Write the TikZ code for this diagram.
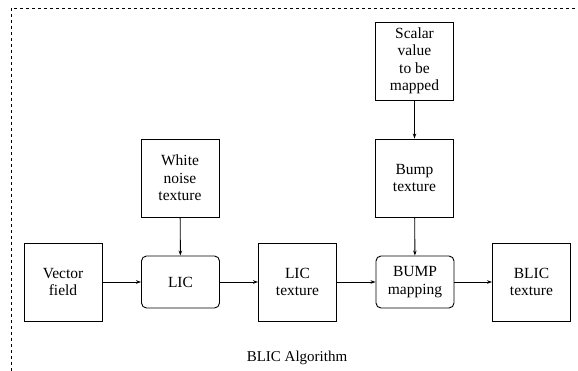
\documentclass[tikz,border=0pt]{standalone}
\usepackage{fontspec}
\setmainfont{Liberation Serif}
\usetikzlibrary{arrows.meta, positioning}

\begin{document}
\begin{tikzpicture}[
    x=1pt, y=-1pt,
    >={Stealth[length=5pt, width=3.5pt]},
    every node/.style={font=\fontsize{15.5}{17.5}\selectfont},
    block/.style={draw, line width=0.9pt, minimum width=78pt, minimum height=78pt, align=center, inner sep=2pt},
    proc/.style={draw, line width=0.9pt, rounded corners=5pt, minimum width=78pt, minimum height=52pt, align=center, inner sep=2pt},
    link/.style={->, line width=0.9pt},
]
\useasboundingbox (0,0) rectangle (578,371);

% --- frame (dashed, only top and left edges are in view) ---
\draw[line width=0.7pt, dash pattern=on 3pt off 3pt] (11,371) -- (11,8) -- (578,8);

% --- main row ---
\node[block] (vec)    at (63,282)    {Vector\\field};
\node[proc]  (lic)    at (180.5,282) {LIC};
\node[block] (lictex) at (297.5,282) {LIC\\texture};
\node[proc]  (bump)   at (415,282)   {BUMP\\mapping};
\node[block] (blic)   at (531.5,282) {BLIC\\texture};

% --- inputs from above ---
\node[block] (noise)   at (180,178)   {White\\noise\\texture};
\node[block] (bumptex) at (414.5,178) {Bump\\texture};
\node[block] (scalar)  at (414.5,61)  {Scalar\\value\\to be\\mapped};

% --- connectors ---
\draw[link] (vec) -- (lic);
\draw[link] (lic) -- (lictex);
\draw[link] (lictex) -- (bump);
\draw[link] (bump) -- (blic);
\draw[link] (noise) -- (lic);
\draw[link] (scalar) -- (bumptex);
\draw[link] (bumptex) -- (bump);

% caption
\node[font=\fontsize{15}{17}\selectfont] (title) at (297,358) {BLIC Algorithm};

\end{tikzpicture}
\end{document}
